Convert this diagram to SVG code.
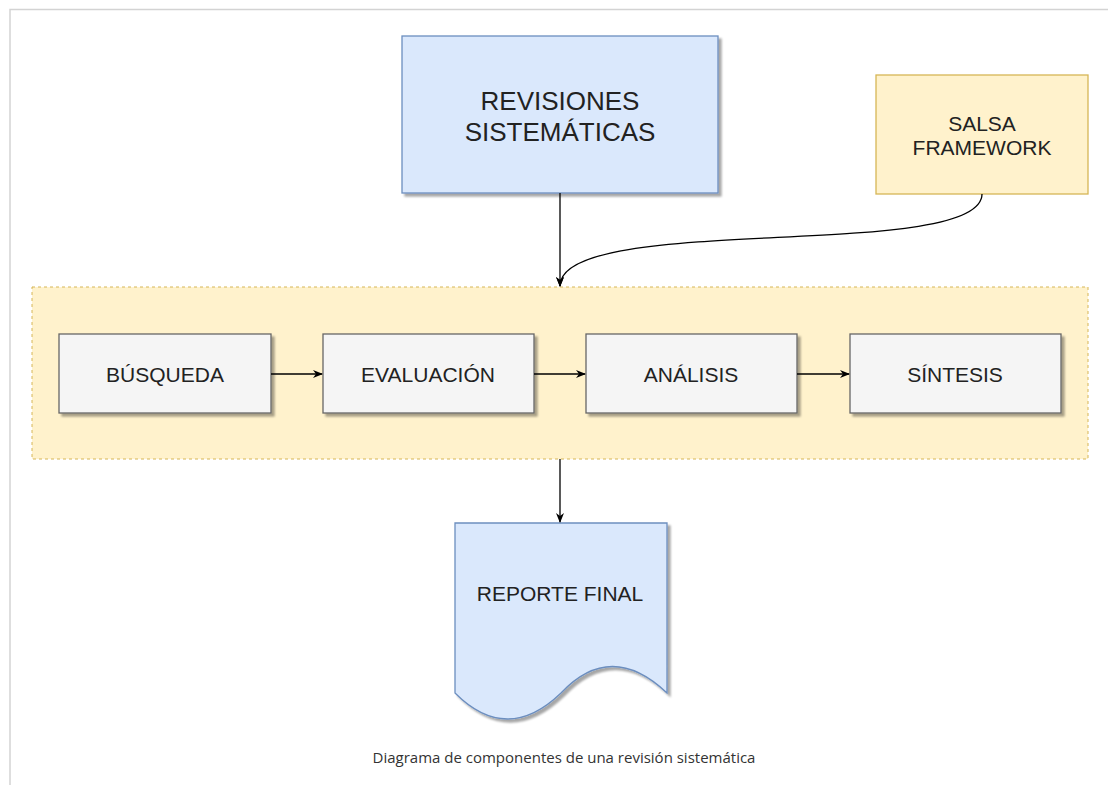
<svg xmlns="http://www.w3.org/2000/svg" width="1108" height="785" viewBox="0 0 1108 785">
<defs>
<marker id="arr" viewBox="0 0 10 10" refX="9" refY="5" markerWidth="10" markerHeight="10" markerUnits="userSpaceOnUse" orient="auto">
<path d="M0,1 L10,5 L0,9 L3,5 Z" fill="#000"/>
</marker>
<filter id="sh" x="-10%" y="-10%" width="130%" height="130%">
<feGaussianBlur in="SourceAlpha" stdDeviation="1.2"/>
<feOffset dx="3" dy="3" result="o"/>
<feComponentTransfer><feFuncA type="linear" slope="0.35"/></feComponentTransfer>
<feMerge><feMergeNode/><feMergeNode in="SourceGraphic"/></feMerge>
</filter>
</defs>
<style>
.lbl{font-family:"Liberation Sans",Arial,sans-serif;fill:#222;text-anchor:middle}
.step{fill:#f5f5f5;stroke:#666;stroke-width:1.3}
.conn{fill:none;stroke:#000;stroke-width:1.3}
</style>
<rect width="1108" height="785" fill="#fff"/>
<path d="M10,785 V9.5 H1108" fill="none" stroke="#d3d3d3" stroke-width="1.5"/>

<g id="container">
<rect x="32" y="287" width="1056" height="172" fill="#fff2cc" stroke="#d6b656" stroke-dasharray="3 3"/>
</g>

<g id="revisiones">
<rect x="402" y="36" width="316" height="157" fill="#dae8fc" stroke="#6c8ebf" stroke-width="1.3" filter="url(#sh)"/>
<text class="lbl" x="560" y="110" font-size="26">REVISIONES</text>
<text class="lbl" x="560" y="141" font-size="26">SISTEMÁTICAS</text>
</g>

<g id="salsa">
<rect x="876" y="75" width="212" height="119" fill="#fff2cc" stroke="#d6b656" stroke-width="1.3"/>
<text class="lbl" x="982" y="131" font-size="21">SALSA</text>
<text class="lbl" x="982" y="155" font-size="21">FRAMEWORK</text>
</g>

<g id="busqueda">
<rect class="step" x="59" y="334" width="212" height="79" filter="url(#sh)"/>
<text class="lbl" x="165" y="382" font-size="21">BÚSQUEDA</text>
</g>
<g id="evaluacion">
<rect class="step" x="323" y="334" width="211" height="79" filter="url(#sh)"/>
<text class="lbl" x="428" y="382" font-size="21">EVALUACIÓN</text>
</g>
<g id="analisis">
<rect class="step" x="586" y="334" width="211" height="79" filter="url(#sh)"/>
<text class="lbl" x="691" y="382" font-size="21">ANÁLISIS</text>
</g>
<g id="sintesis">
<rect class="step" x="850" y="334" width="211" height="79" filter="url(#sh)"/>
<text class="lbl" x="955" y="382" font-size="21">SÍNTESIS</text>
</g>

<g id="reporte">
<path d="M455,523 L667,523 L667,693 Q611,640 561,693 Q507,745 455,693 Z" fill="#dae8fc" stroke="#6c8ebf" stroke-width="1.3" filter="url(#sh)"/>
<text class="lbl" x="560" y="601" font-size="21">REPORTE FINAL</text>
</g>

<g id="connectors">
<path class="conn" d="M560,193 V286" marker-end="url(#arr)"/>
<path class="conn" d="M982,194 C982,262 560,212 560,286" marker-end="url(#arr)"/>
<path class="conn" d="M271,374 H322" marker-end="url(#arr)"/>
<path class="conn" d="M534,374 H585" marker-end="url(#arr)"/>
<path class="conn" d="M797,374 H849" marker-end="url(#arr)"/>
<path class="conn" d="M560,459 V522" marker-end="url(#arr)"/>
</g>

<text x="564" y="763" font-family="'Open Sans','Noto Sans',sans-serif" font-size="15" fill="#333" text-anchor="middle">Diagrama de componentes de una revisión sistemática</text>
</svg>
